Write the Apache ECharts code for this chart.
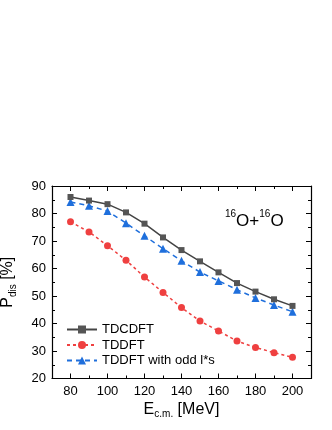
<!DOCTYPE html>
<html>
<head>
<meta charset="utf-8">
<script src="https://cdn.jsdelivr.net/npm/echarts@6/dist/echarts.min.js"></script>
<style>html,body{margin:0;padding:0;background:#fff;}#c{width:332px;height:430px;}</style>
</head>
<body>
<div id="c"></div>
<script>
var energies = [80, 90, 100, 110, 120, 130, 140, 150, 160, 170, 180, 190, 200];
var tdcdft = [86.0, 84.7, 83.4, 80.4, 76.3, 71.3, 66.7, 62.6, 58.6, 54.7, 51.6, 48.8, 46.4];
var tddft = [77.0, 73.3, 68.3, 63.0, 56.9, 51.3, 45.8, 40.9, 37.3, 33.6, 31.3, 29.4, 27.7];
var tddftOdd = [84.2, 82.8, 80.9, 76.5, 71.9, 67.2, 62.8, 58.7, 55.5, 52.3, 49.3, 46.7, 44.3];
var xMajorTicks = [80, 100, 120, 140, 160, 180, 200];
var xMinorTicks = [90, 110, 130, 150, 170, 190];
var seriesNames = ['TDCDFT', 'TDDFT', 'TDDFT with odd l*s'];

function pairs(vals) { return energies.map(function (e, i) { return [e, vals[i]]; }); }

var FONT = 'Liberation Sans, Arial, sans-serif';
var chart = echarts.init(document.getElementById('c'), null, {renderer: 'canvas'});

function xAx(pos, ticks, len, labels, lineShow, name) {
  var a = {
    type: 'value', position: pos, min: 70, max: 210,
    axisLine: {show: lineShow, lineStyle: {color: '#000', width: 1.2}},
    axisTick: {show: true, inside: true, length: len, customValues: ticks, lineStyle: {color: '#000', width: 1}},
    axisLabel: labels ? {show: true, customValues: ticks, fontSize: 13, color: '#000', fontFamily: FONT, margin: 6} : {show: false},
    splitLine: {show: false}
  };
  if (name) {
    a.name = '{m|E}{s|c.m.}{m| [MeV]}';
    a.nameLocation = 'middle';
    a.nameGap = 21;
    a.nameTextStyle = {rich: {
      m: {fontSize: 16, fontFamily: FONT, color: '#000', lineHeight: 20},
      s: {fontSize: 10, fontFamily: FONT, color: '#000', lineHeight: 10, verticalAlign: 'bottom'}
    }};
  }
  return a;
}

function yAx(pos, labels, name) {
  var a = {
    type: 'value', position: pos, min: 20, max: 90, interval: 10,
    axisLine: {show: true, lineStyle: {color: '#000', width: 1.2}},
    axisTick: {show: true, inside: true, length: 5, lineStyle: {color: '#000', width: 1}},
    minorTick: {show: true, splitNumber: 2, length: 3, lineStyle: {color: '#000', width: 1}},
    axisLabel: labels ? {show: true, fontSize: 13, color: '#000', fontFamily: FONT, margin: 6} : {show: false},
    splitLine: {show: false}
  };
  if (name) {
    a.name = '{m|P}{s|dis}{m| [%]}';
    a.nameLocation = 'middle';
    a.nameGap = 34;
    a.nameTextStyle = {rich: {
      m: {fontSize: 16, fontFamily: FONT, color: '#000', lineHeight: 20},
      s: {fontSize: 10, fontFamily: FONT, color: '#000', lineHeight: 10, verticalAlign: 'bottom'}
    }};
  }
  return a;
}

var option = {
  backgroundColor: '#fff',
  animation: false,
  grid: {left: 52, right: 21, top: 186, bottom: 51.5, containLabel: false, outerBoundsMode: 'none'},
  xAxis: [
    xAx('bottom', xMajorTicks, 5, true, true, true),
    xAx('bottom', xMinorTicks, 3, false, false, false),
    xAx('top', xMajorTicks, 5, false, true, false),
    xAx('top', xMinorTicks, 3, false, false, false)
  ],
  yAxis: [yAx('left', true, true), yAx('right', false, false)],
  legend: {
    orient: 'vertical', left: 61, top: 318, itemWidth: 30, itemHeight: 10, itemGap: 2.5,
    textStyle: {fontSize: 13, fontFamily: FONT, color: '#000', lineHeight: 13},
    data: seriesNames
  },
  graphic: [{
    type: 'text', left: 225, top: 209,
    style: {
      text: '{s|16}{m|O+}{s|16}{m|O}',
      rich: {
        m: {fontSize: 17, fontFamily: FONT, fill: '#000', lineHeight: 24},
        s: {fontSize: 10, fontFamily: FONT, fill: '#000', lineHeight: 10, verticalAlign: 'top'}
      }
    }
  }],
  series: [
    {
      name: seriesNames[0], type: 'line', data: pairs(tdcdft), xAxisIndex: 0, yAxisIndex: 0,
      symbol: 'rect', symbolSize: 6, z: 3,
      lineStyle: {color: '#444', width: 1.5, type: 'solid'},
      itemStyle: {color: '#555'}
    },
    {
      name: seriesNames[1], type: 'line', data: pairs(tddft), xAxisIndex: 0, yAxisIndex: 0,
      symbol: 'circle', symbolSize: 7, z: 2,
      lineStyle: {color: '#ef4040', width: 1.5, type: [3, 3]},
      itemStyle: {color: '#ef4040'}
    },
    {
      name: seriesNames[2], type: 'line', data: pairs(tddftOdd), xAxisIndex: 0, yAxisIndex: 0,
      symbol: 'triangle', symbolSize: 8, z: 2,
      lineStyle: {color: '#1f6fdc', width: 1.5, type: [5, 4]},
      itemStyle: {color: '#1f6fdc'}
    }
  ]
};
chart.setOption(option);
</script>
</body>
</html>
